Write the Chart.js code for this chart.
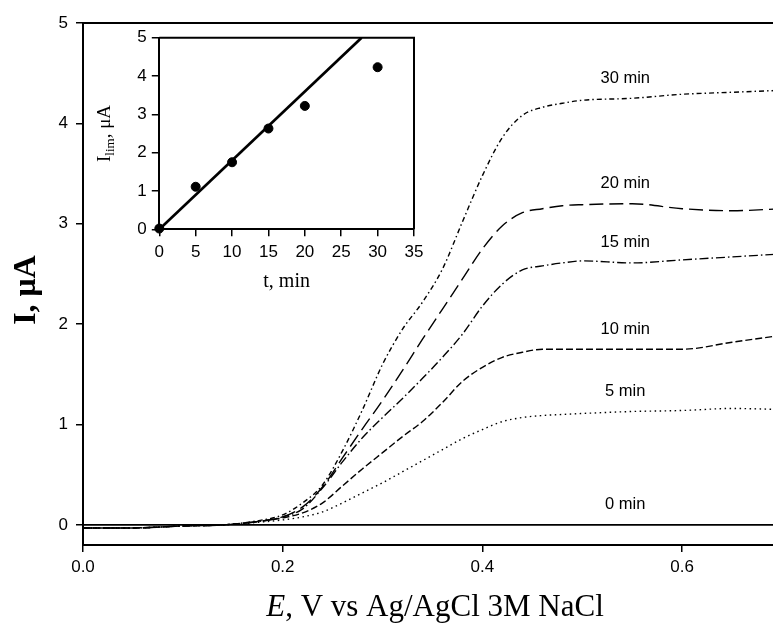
<!DOCTYPE html>
<html>
<head>
<meta charset="utf-8">
<script src="https://cdn.jsdelivr.net/npm/chart.js@4.4.1/dist/chart.umd.min.js"></script>
<style>
  html, body { margin: 0; padding: 0; background: #fff; overflow: hidden; }
  #wrap { position: relative; width: 773px; height: 628px; overflow: hidden; background: #fff; }
  #main { position: absolute; left: 0; top: 0; }
  #inset { position: absolute; left: 90px; top: 20px; }
</style>
</head>
<body>
<div id="wrap">
  <canvas id="main" width="800" height="628"></canvas>
  <canvas id="inset" width="340" height="280"></canvas>
</div>
<script>
// ---- Main chart data (E in V, I in µA) ----
const E = [0, 0.05, 0.10, 0.14, 0.18, 0.20, 0.22, 0.24, 0.26, 0.28, 0.30, 0.32, 0.34, 0.36, 0.38, 0.40, 0.42, 0.44, 0.46, 0.48, 0.50, 0.55, 0.60, 0.65, 0.70];
const I0  = [0, 0, 0, 0, 0, 0, 0, 0, 0, 0, 0, 0, 0, 0, 0, 0, 0, 0, 0, 0, 0, 0, 0, 0, 0];
const I5  = [-0.03,-0.03,-0.01,0.00,0.03,0.05,0.08,0.13,0.22,0.32,0.42,0.53,0.64,0.75,0.86,0.95,1.03,1.07,1.09,1.10,1.11,1.13,1.14,1.16,1.15];
const I10 = [-0.03,-0.03,-0.01,0.00,0.04,0.07,0.12,0.22,0.39,0.56,0.72,0.88,1.03,1.22,1.43,1.57,1.67,1.72,1.75,1.75,1.75,1.75,1.75,1.82,1.89];
const I15 = [-0.03,-0.03,-0.01,0.00,0.04,0.08,0.16,0.37,0.63,0.87,1.07,1.26,1.46,1.67,1.90,2.18,2.40,2.54,2.58,2.61,2.63,2.61,2.64,2.67,2.70];
const I20 = [-0.03,-0.03,-0.01,0.00,0.04,0.08,0.18,0.38,0.67,0.96,1.24,1.54,1.85,2.15,2.45,2.75,2.98,3.11,3.15,3.18,3.19,3.20,3.15,3.13,3.15];
const I30 = [-0.03,-0.03,-0.01,0.00,0.05,0.10,0.22,0.40,0.74,1.15,1.60,1.95,2.22,2.55,3.02,3.48,3.86,4.08,4.16,4.20,4.23,4.25,4.29,4.31,4.33];
const curveLabels = ['0 min', '5 min', '10 min', '15 min', '20 min', '30 min'];
const xTicks = [0, 0.2, 0.4, 0.6];
const yTicks = [0, 1, 2, 3, 4, 5];

// ---- Inset data (t in min, I_lim in µA) ----
const tInset = [0, 5, 10, 15, 20, 30];
const iInset = [0.02, 1.11, 1.75, 2.63, 3.22, 4.23];
const fitT = [0, 27.8];
const fitI = [0, 5];
const tTicks = [0, 5, 10, 15, 20, 25, 30, 35];
const iTicks = [0, 1, 2, 3, 4, 5];

const SANS = '"Liberation Sans", Arial, sans-serif';
const SERIF = '"Liberation Serif", "Times New Roman", serif';

function pts(xs, ys) { return xs.map((x, i) => ({ x: x, y: ys[i] })); }

const dashes = [[], [1.5, 3.5], [7, 3], [9, 3, 1.5, 3], [14, 6], [5, 3, 1.5, 3]];
const series = [I0, I5, I10, I15, I20, I30];

const boxPlugin = {
  id: 'box',
  afterDraw(chart) {
    const { ctx, chartArea: a } = chart;
    ctx.save();
    ctx.strokeStyle = '#000';
    ctx.lineWidth = 2;
    ctx.beginPath();
    ctx.moveTo(a.left, a.top);
    ctx.lineTo(a.right, a.top);
    ctx.lineTo(a.right, a.bottom);
    ctx.stroke();
    ctx.restore();
  }
};

const mainText = {
  id: 'mainText',
  afterDraw(chart) {
    const ctx = chart.ctx;
    const xs = chart.scales.x, ys = chart.scales.y;
    ctx.save();
    ctx.fillStyle = '#000';
    // curve labels
    const idx = E.indexOf(0.55);
    ctx.font = '16.5px ' + SANS;
    ctx.textAlign = 'center';
    ctx.textBaseline = 'middle';
    const lx = xs.getPixelForValue(0.543);
    series.forEach((s, i) => {
      ctx.fillText(curveLabels[i], lx, ys.getPixelForValue(s[idx]) - 20);
    });
    // x title with italic E
    ctx.textBaseline = 'alphabetic';
    ctx.textAlign = 'left';
    const fItal = 'italic 31px ' + SERIF;
    const fNorm = '31px ' + SERIF;
    const p1 = 'E', p2 = ', V vs Ag/AgCl 3M NaCl';
    ctx.font = fItal; const w1 = ctx.measureText(p1).width;
    ctx.font = fNorm; const w2 = ctx.measureText(p2).width;
    const x0 = 435 - (w1 + w2) / 2;
    ctx.font = fItal; ctx.fillText(p1, x0, 616);
    ctx.font = fNorm; ctx.fillText(p2, x0 + w1, 616);
    // y title
    ctx.translate(35, 290);
    ctx.rotate(-Math.PI / 2);
    ctx.font = 'bold 32px ' + SERIF;
    ctx.textAlign = 'center';
    ctx.fillText('I, μA', 0, 0);
    ctx.restore();
  }
};

new Chart(document.getElementById('main'), {
  type: 'line',
  data: {
    datasets: series.map((s, i) => ({
      label: curveLabels[i],
      data: pts(E, s),
      borderColor: '#000',
      borderWidth: i === 0 ? 1.6 : 1.4,
      borderDash: dashes[i],
      pointRadius: 0,
      fill: false,
      tension: 0,
      cubicInterpolationMode: 'monotone'
    }))
  },
  options: {
    responsive: false,
    animation: false,
    events: [],
    layout: { padding: { left: 0, top: 23, right: 18, bottom: 0 } },
    plugins: { legend: { display: false }, tooltip: { enabled: false } },
    scales: {
      x: {
        type: 'linear', min: 0, max: 0.7,
        afterFit(s) { s.height = 83; },
        afterBuildTicks(s) { s.ticks = xTicks.map(v => ({ value: v })); },
        ticks: { includeBounds: false, callback: v => Number(v).toFixed(1), font: { family: SANS, size: 17 }, color: '#000', padding: 5, maxRotation: 0 },
        grid: { drawOnChartArea: false, drawTicks: true, tickLength: 7, color: '#000', lineWidth: 1.5 },
        border: { display: true, color: '#000', width: 2 },
        title: { display: false }
      },
      y: {
        type: 'linear', min: -0.2, max: 5,
        afterFit(s) { s.width = 83; },
        afterBuildTicks(s) { s.ticks = yTicks.map(v => ({ value: v })); },
        ticks: { includeBounds: false, callback: v => String(v), font: { family: SANS, size: 17 }, color: '#000', padding: 8 },
        grid: { drawOnChartArea: false, drawTicks: true, tickLength: 7, color: '#000', lineWidth: 1.5 },
        border: { display: true, color: '#000', width: 2 },
        title: { display: false }
      }
    }
  },
  plugins: [boxPlugin, mainText]
});

const insetText = {
  id: 'insetText',
  afterDraw(chart) {
    const ctx = chart.ctx;
    ctx.save();
    ctx.fillStyle = '#000';
    ctx.textBaseline = 'alphabetic';
    ctx.textAlign = 'center';
    ctx.font = '20px ' + SERIF;
    const a = chart.chartArea;
    ctx.fillText('t, min', (a.left + a.right) / 2, 267);
    // rotated y title with subscript
    ctx.translate(20, (a.top + a.bottom) / 2);
    ctx.rotate(-Math.PI / 2);
    ctx.textAlign = 'left';
    const big = '19px ' + SERIF, small = '13px ' + SERIF;
    ctx.font = big; const wA = ctx.measureText('I').width;
    ctx.font = small; const wB = ctx.measureText('lim').width;
    ctx.font = big; const wC = ctx.measureText(', μA').width;
    let x = -(wA + wB + wC) / 2;
    ctx.font = big; ctx.fillText('I', x, 0); x += wA;
    ctx.font = small; ctx.fillText('lim', x, 4); x += wB;
    ctx.font = big; ctx.fillText(', μA', x, 0);
    ctx.restore();
  }
};

new Chart(document.getElementById('inset'), {
  type: 'scatter',
  data: {
    datasets: [
      {
        label: 'fit',
        type: 'line',
        data: pts(fitT, fitI),
        borderColor: '#000',
        borderWidth: 2.7,
        pointRadius: 0,
        fill: false,
        showLine: true
      },
      {
        label: 'I_lim',
        data: pts(tInset, iInset),
        backgroundColor: '#000',
        borderColor: '#000',
        pointRadius: 4.5,
        clip: false
      }
    ]
  },
  options: {
    responsive: false,
    animation: false,
    events: [],
    layout: { padding: { left: 0, top: 17.7, right: 16, bottom: 0 } },
    plugins: { legend: { display: false }, tooltip: { enabled: false } },
    scales: {
      x: {
        type: 'linear', min: 0, max: 35,
        afterFit(s) { s.height = 70.7; },
        afterBuildTicks(s) { s.ticks = tTicks.map(v => ({ value: v })); },
        ticks: { font: { family: SANS, size: 17 }, color: '#000', padding: 6, maxRotation: 0 },
        grid: { drawOnChartArea: false, drawTicks: true, tickLength: 7, color: '#000', lineWidth: 1.5 },
        border: { display: true, color: '#000', width: 2 }
      },
      y: {
        type: 'linear', min: 0, max: 5,
        afterFit(s) { s.width = 69.3; },
        afterBuildTicks(s) { s.ticks = iTicks.map(v => ({ value: v })); },
        ticks: { font: { family: SANS, size: 17 }, color: '#000', padding: 5 },
        grid: { drawOnChartArea: false, drawTicks: true, tickLength: 7.5, color: '#000', lineWidth: 1.5 },
        border: { display: true, color: '#000', width: 2 }
      }
    }
  },
  plugins: [boxPlugin, insetText]
});
</script>
</body>
</html>
